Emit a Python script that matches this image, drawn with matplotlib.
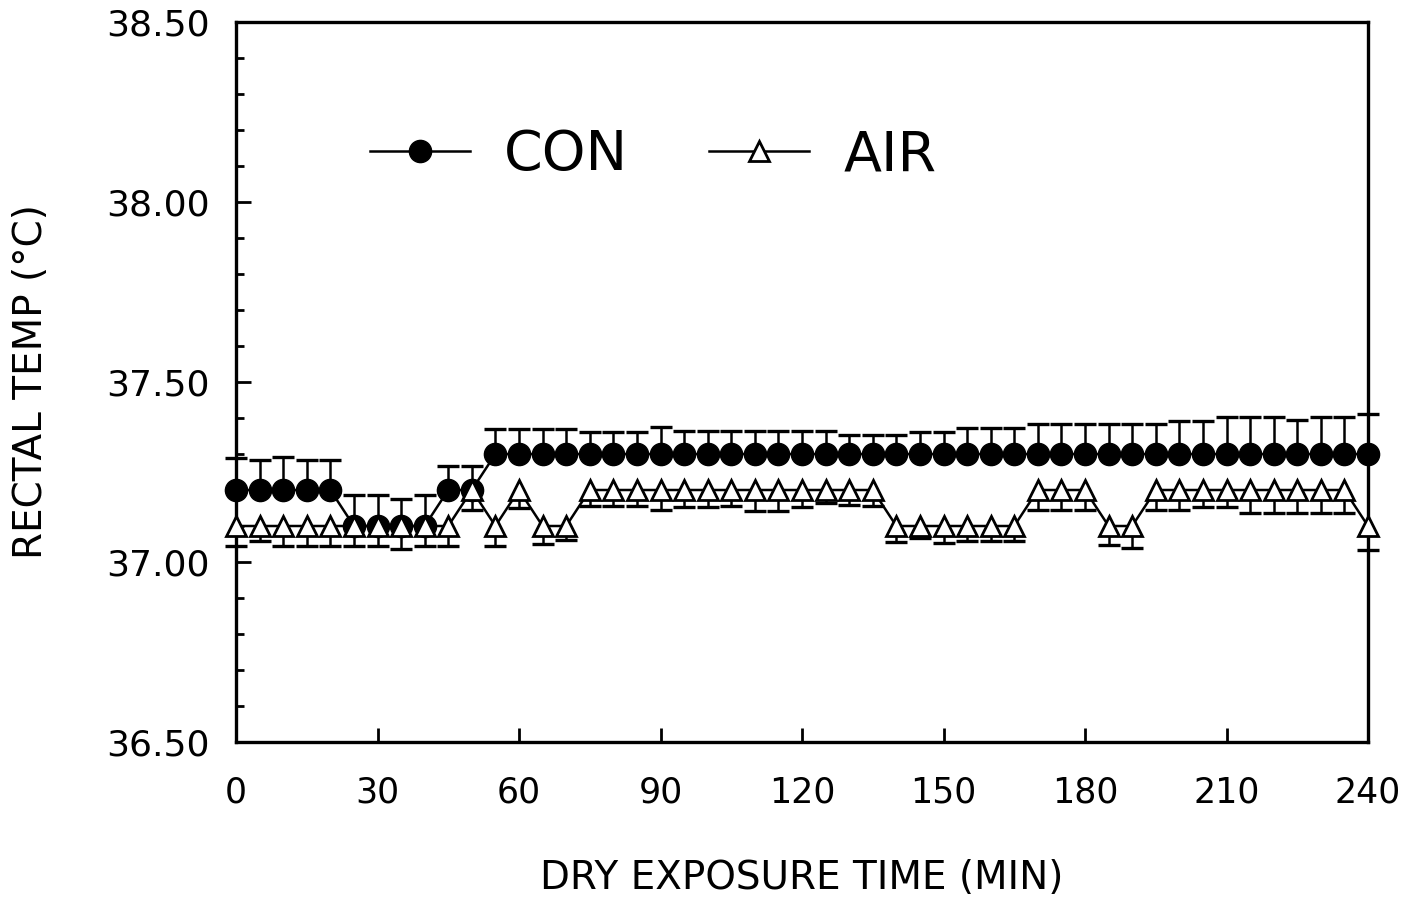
import matplotlib
matplotlib.use("Agg")
import matplotlib.pyplot as plt
from matplotlib.lines import Line2D
import numpy as np

time_min = list(range(0, 245, 5))

con_mean = [37.2, 37.2, 37.2, 37.2, 37.2,
            37.1, 37.1, 37.1, 37.1,
            37.2, 37.2,
            37.3, 37.3, 37.3, 37.3, 37.3, 37.3, 37.3, 37.3, 37.3, 37.3,
            37.3, 37.3, 37.3, 37.3, 37.3, 37.3, 37.3, 37.3, 37.3, 37.3,
            37.3, 37.3, 37.3, 37.3, 37.3, 37.3, 37.3, 37.3, 37.3, 37.3,
            37.3, 37.3, 37.3, 37.3, 37.3, 37.3, 37.3, 37.3]
con_err = [0.09, 0.083, 0.093, 0.083, 0.083,
           0.085, 0.085, 0.074, 0.085,
           0.068, 0.068,
           0.07, 0.07, 0.07, 0.07, 0.06, 0.06, 0.06, 0.074, 0.063, 0.063,
           0.063, 0.063, 0.063, 0.063, 0.063, 0.054, 0.054, 0.054, 0.06, 0.06,
           0.072, 0.072, 0.072, 0.083, 0.083, 0.083, 0.083, 0.083, 0.083, 0.092,
           0.092, 0.104, 0.104, 0.104, 0.094, 0.104, 0.104, 0.11]

air_mean = [37.1, 37.1, 37.1, 37.1, 37.1,
            37.1, 37.1, 37.1, 37.1, 37.1,
            37.2, 37.1, 37.2, 37.1, 37.1,
            37.2, 37.2, 37.2, 37.2, 37.2, 37.2, 37.2, 37.2, 37.2, 37.2,
            37.2, 37.2, 37.2,
            37.1, 37.1, 37.1, 37.1, 37.1, 37.1,
            37.2, 37.2, 37.2,
            37.1, 37.1,
            37.2, 37.2, 37.2, 37.2, 37.2, 37.2, 37.2, 37.2, 37.2,
            37.1]
air_err = [0.055, 0.042, 0.055, 0.055, 0.055,
           0.055, 0.055, 0.065, 0.055, 0.055,
           0.055, 0.055, 0.05, 0.05, 0.04,
           0.045, 0.044, 0.044, 0.055, 0.048, 0.048, 0.044, 0.058, 0.058, 0.048,
           0.035, 0.043, 0.045,
           0.044, 0.032, 0.046, 0.042, 0.042, 0.042,
           0.055, 0.055, 0.055,
           0.054, 0.06,
           0.055, 0.055, 0.046, 0.046, 0.065, 0.065, 0.065, 0.065, 0.065,
           0.067]

x_ticks = [0, 30, 60, 90, 120, 150, 180, 210, 240]
x_ticklabels = ["0", "30", "60", "90", "120", "150", "180", "210", "240"]
y_ticks = [36.5, 37.0, 37.5, 38.0, 38.5]
y_ticklabels = ["36.50", "37.00", "37.50", "38.00", "38.50"]

plt.rcParams['font.family'] = ['DejaVu Sans']

fig = plt.figure(figsize=(14.22, 9.0), dpi=100)
ax = fig.add_axes([236/1422, 158/900, 1132/1422, 720/900])

t = np.array(time_min, dtype=float)
cm = np.array(con_mean)
ce = np.array(con_err)
am = np.array(air_mean)
ae = np.array(air_err)

# one-sided error bars: CON upward, AIR downward
ax.vlines(t, cm, cm + ce, colors='black', lw=1.8, zorder=2, clip_on=False)
ax.plot(t, cm + ce, ls='none', marker='_', markersize=16, markeredgewidth=2.4,
        color='black', zorder=2, clip_on=False)
ax.vlines(t, am - ae, am, colors='black', lw=1.8, zorder=2, clip_on=False)
ax.plot(t, am - ae, ls='none', marker='_', markersize=16, markeredgewidth=2.4,
        color='black', zorder=2, clip_on=False)

ax.plot(t, cm, color='black', lw=1.8, marker='o', markersize=16,
        markerfacecolor='black', markeredgecolor='black', zorder=3, clip_on=False)
ax.plot(t, am, color='black', lw=1.8, marker='^', markersize=14,
        markerfacecolor='white', markeredgecolor='black', markeredgewidth=2.0,
        zorder=4, clip_on=False)

ax.set_xlim(0, 240)
ax.set_ylim(36.5, 38.5)
ax.set_xticks(x_ticks)
ax.set_xticklabels(x_ticklabels)
ax.set_yticks(y_ticks)
ax.set_yticklabels(y_ticklabels)
ax.set_yticks(np.arange(36.6, 38.45, 0.1), minor=True)

for s in ax.spines.values():
    s.set_linewidth(2.4)

ax.tick_params(axis='y', which='major', direction='in', length=11, width=2,
               labelsize=26, pad=19)
ax.tick_params(axis='y', which='minor', direction='in', length=6, width=2)
ax.tick_params(axis='x', which='major', direction='in', length=10, width=2,
               labelsize=25, pad=24)

ax.set_ylabel("RECTAL TEMP (°C)", fontsize=28, labelpad=40)
ax.set_xlabel("DRY EXPOSURE TIME (MIN)", fontsize=28, labelpad=36)

handles = [
    Line2D([], [], color='black', lw=1.8, marker='o', markersize=16,
           markerfacecolor='black'),
    Line2D([], [], color='black', lw=1.8, marker='^', markersize=14,
           markerfacecolor='white', markeredgewidth=2.0),
]
ax.legend(handles, ["CON", "AIR"], ncol=2, loc='center left',
          bbox_to_anchor=(0.118, 0.815), frameon=False, fontsize=40,
          handlelength=1.8, handletextpad=0.62, columnspacing=1.45,
          borderpad=0, borderaxespad=0)

fig.savefig("out.png", dpi=100, facecolor='white')
